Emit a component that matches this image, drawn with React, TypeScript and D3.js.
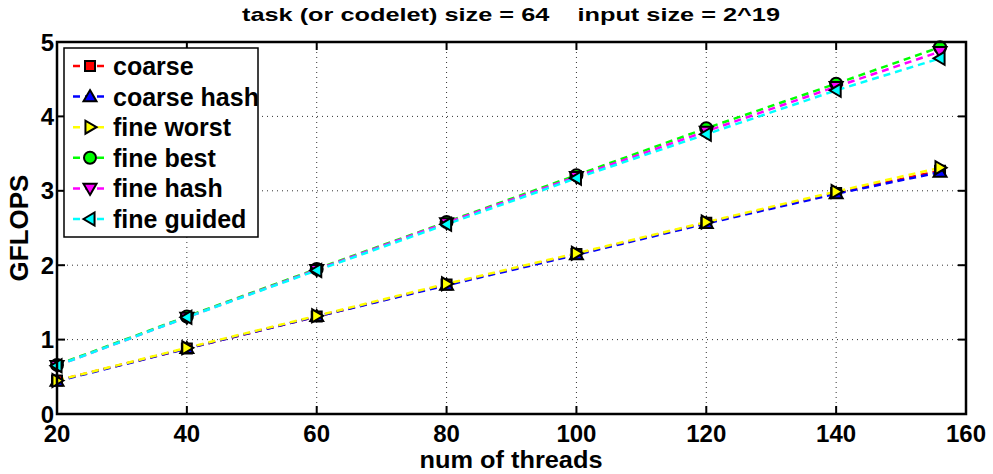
import React from "react";
import * as d3 from "d3";

const threads = [20, 40, 60, 80, 100, 120, 140, 156];
const coarse = [0.45, 0.88, 1.31, 1.74, 2.15, 2.57, 2.97, 3.27];
const coarseHash = [0.44, 0.88, 1.31, 1.73, 2.14, 2.56, 2.96, 3.25];
const fineWorst = [0.45, 0.89, 1.32, 1.75, 2.16, 2.58, 2.99, 3.31];
const fineBest = [0.66, 1.31, 1.95, 2.58, 3.21, 3.84, 4.44, 4.93];
const fineHash = [0.65, 1.3, 1.94, 2.57, 3.19, 3.8, 4.4, 4.87];
const fineGuided = [0.65, 1.3, 1.93, 2.55, 3.17, 3.76, 4.35, 4.78];

const xTicks = [20, 40, 60, 80, 100, 120, 140, 160];
const yTicks = [0, 1, 2, 3, 4, 5];

const series = [
  { name: "coarse", values: coarse, color: "#ff0000", marker: "square" },
  { name: "coarse hash", values: coarseHash, color: "#0000ff", marker: "up" },
  { name: "fine worst", values: fineWorst, color: "#ffff00", marker: "right" },
  { name: "fine best", values: fineBest, color: "#00ff00", marker: "circle" },
  { name: "fine hash", values: fineHash, color: "#ff00ff", marker: "down" },
  { name: "fine guided", values: fineGuided, color: "#00ffff", marker: "left" },
];

const W = 993;
const H = 474;
const plot = { left: 57, right: 966, top: 42, bottom: 414 };
const font = "'Liberation Sans', Arial, Helvetica, sans-serif";

// marker outlines, centred on (cx, cy)
function markerPath(kind: string, cx: number, cy: number) {
  const r = 6.5;
  switch (kind) {
    case "square":
      return `M${cx - 5},${cy - 5}h10v10h-10Z`;
    case "circle":
      return `M${cx - 6},${cy}a6,6 0 1,0 12,0a6,6 0 1,0 -12,0Z`;
    case "up":
      return `M${cx},${cy - r}L${cx + r},${cy + r * 0.7}L${cx - r},${cy + r * 0.7}Z`;
    case "down":
      return `M${cx},${cy + r}L${cx + r},${cy - r * 0.7}L${cx - r},${cy - r * 0.7}Z`;
    case "right":
      return `M${cx + r},${cy}L${cx - r * 0.7},${cy - r}L${cx - r * 0.7},${cy + r}Z`;
    default:
      return `M${cx - r},${cy}L${cx + r * 0.7},${cy - r}L${cx + r * 0.7},${cy + r}Z`;
  }
}

export default function App() {
  const x = d3.scaleLinear().domain([20, 160]).range([plot.left, plot.right]);
  const y = d3.scaleLinear().domain([0, 5]).range([plot.bottom, plot.top]);
  const line = d3
    .line<number>()
    .x((_, i) => x(threads[i]))
    .y((d) => y(d));

  const legendRows = series.map((s, i) => ({ ...s, cy: 66 + i * 30.6 }));

  return (
    <svg
      width={W}
      height={H}
      style={{ position: "absolute", left: 0, top: 0, background: "#fff" }}
      fontFamily={font}
      fontWeight="bold"
    >
      <rect x={0} y={0} width={W} height={H} fill="#fff" />
      {/* grid */}
      {xTicks.slice(1, -1).map((t) => (
        <line key={"gx" + t} x1={x(t)} x2={x(t)} y1={plot.top} y2={plot.bottom}
          stroke="#333" strokeWidth={1} strokeDasharray="1,4" />
      ))}
      {yTicks.slice(1, -1).map((t) => (
        <line key={"gy" + t} x1={plot.left} x2={plot.right} y1={y(t)} y2={y(t)}
          stroke="#333" strokeWidth={1} strokeDasharray="1,4" />
      ))}

      {/* series */}
      {series.map((s) => (
        <path key={s.name} d={line(s.values)!} fill="none" stroke={s.color}
          strokeWidth={2.5} strokeDasharray="7,5" />
      ))}
      {series.map((s) =>
        s.values.map((v, i) => (
          <path key={s.name + i} d={markerPath(s.marker, x(threads[i]), y(v))}
            fill={s.color} stroke="#000" strokeWidth={2} />
        ))
      )}

      {/* frame and ticks */}
      <rect x={plot.left} y={plot.top} width={plot.right - plot.left}
        height={plot.bottom - plot.top} fill="none" stroke="#000" strokeWidth={2.5} />
      {xTicks.map((t) => (
        <g key={"tx" + t}>
          <line x1={x(t)} x2={x(t)} y1={plot.bottom} y2={plot.bottom - 8} stroke="#000" strokeWidth={2} />
          <line x1={x(t)} x2={x(t)} y1={plot.top} y2={plot.top + 8} stroke="#000" strokeWidth={2} />
          <text x={x(t)} y={442} textAnchor="middle" fontSize={24}>{t}</text>
        </g>
      ))}
      {yTicks.map((t) => (
        <g key={"ty" + t}>
          <line x1={plot.left} x2={plot.left + 8} y1={y(t)} y2={y(t)} stroke="#000" strokeWidth={2} />
          <line x1={plot.right} x2={plot.right - 8} y1={y(t)} y2={y(t)} stroke="#000" strokeWidth={2} />
          <text x={54} y={y(t) + 8.5} textAnchor="end" fontSize={24}>{t}</text>
        </g>
      ))}

      {/* labels */}
      <text x={511} y={21} textAnchor="middle" fontSize={19} textLength={538}
        lengthAdjust="spacingAndGlyphs">
        task (or codelet) size = 64{"\u00a0\u00a0\u00a0\u00a0"}input size = 2^19
      </text>
      <text x={511} y={468} textAnchor="middle" fontSize={24} textLength={183}
        lengthAdjust="spacingAndGlyphs">num of threads</text>
      <text transform={`translate(28,${(plot.top + plot.bottom) / 2}) rotate(-90)`}
        textAnchor="middle" fontSize={26}>GFLOPS</text>

      {/* legend */}
      <rect x={64} y={48} width={194} height={189} fill="#fff" stroke="#000" strokeWidth={1.5} />
      {legendRows.map((s) => (
        <g key={"lg" + s.name}>
          <line x1={72} x2={108} y1={s.cy} y2={s.cy} stroke={s.color} strokeWidth={2.5}
            strokeDasharray="7,5" strokeDashoffset={-1} />
          <path d={markerPath(s.marker, 90, s.cy)} fill={s.color} stroke="#000" strokeWidth={2} />
          <text x={113} y={s.cy + 9} fontSize={25}>{s.name}</text>
        </g>
      ))}
    </svg>
  );
}
